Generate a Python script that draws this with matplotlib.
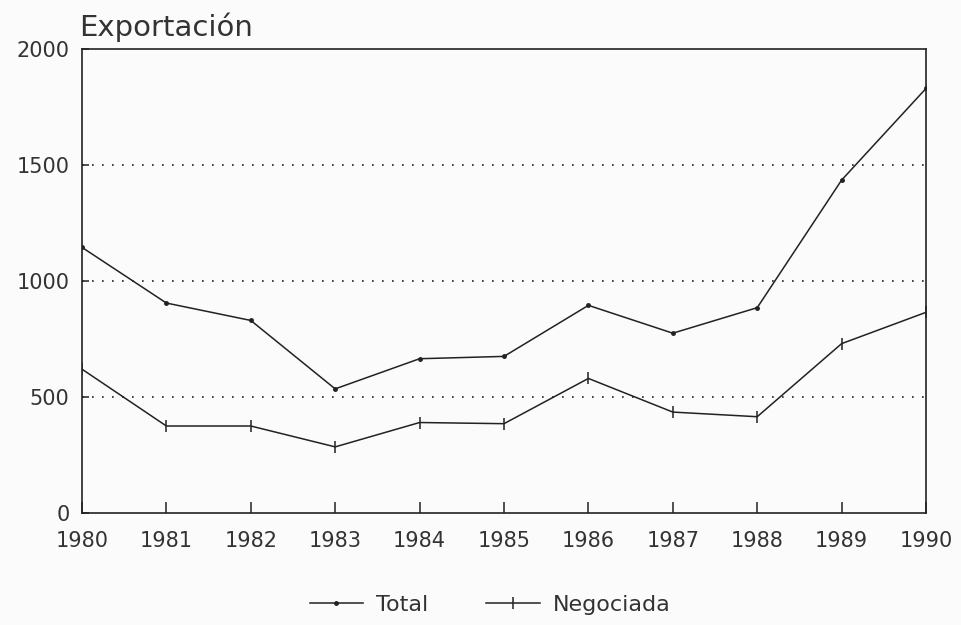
import numpy as np
import matplotlib.pyplot as plt
from matplotlib.lines import Line2D

# Datos
anios = [1980, 1981, 1982, 1983, 1984, 1985, 1986, 1987, 1988, 1989, 1990]
total = [1145, 905, 830, 535, 665, 675, 895, 775, 885, 1435, 1830]
negociada = [620, 375, 375, 285, 390, 385, 580, 435, 415, 730, 865]
marcas_y = [0, 500, 1000, 1500, 2000]

color_texto = '#333333'

fig = plt.figure(figsize=(9.61, 6.25), dpi=100)
fig.patch.set_facecolor('#fbfbfb')
ax = fig.add_axes([0.0853, 0.1792, 0.8783, 0.7424])
ax.set_facecolor('#fbfbfb')

# Lineas de rejilla punteadas
for v in marcas_y[1:-1]:
    ax.axhline(v, color='#222222', linestyle=(0, (1, 5)), linewidth=1.2, zorder=1)

ax.plot(anios, total, color='#222222', linewidth=1.1, marker='o', markersize=2.5, zorder=3)
ax.plot(anios, negociada, color='#222222', linewidth=1.1, marker='|', markersize=9,
        markeredgewidth=1.1, zorder=3)

ax.set_xlim(1980, 1990)
ax.set_ylim(0, 2000)
ax.set_xticks(anios)
ax.set_xticklabels([str(a) for a in anios], fontsize=15, color=color_texto)
ax.set_yticks(marcas_y)
ax.set_yticklabels([str(v) for v in marcas_y], fontsize=15, color=color_texto)
ax.tick_params(axis='x', direction='in', length=8, width=1.1, pad=13, color='#222222')
ax.tick_params(axis='y', direction='in', length=5, width=1.1, pad=9, color='#222222')
for s in ax.spines.values():
    s.set_linewidth(1.2)
    s.set_color('#222222')

fig.text(0.082, 0.932, 'Exportación', fontsize=21, color=color_texto, ha='left', va='bottom')

# Leyenda inferior
h_total = Line2D([], [], color='#222222', linewidth=1.1, marker='o', markersize=2.5)
h_neg = Line2D([], [], color='#222222', linewidth=1.1, marker='|', markersize=9, markeredgewidth=1.1)
fig.legend([h_total, h_neg], ['Total', 'Negociada'], loc='center', bbox_to_anchor=(0.51, 0.032),
           ncol=2, frameon=False, fontsize=16, handlelength=2.4, handletextpad=0.6,
           columnspacing=2.6, labelcolor=color_texto)

fig.savefig('out.png', dpi=100, facecolor=fig.get_facecolor())
